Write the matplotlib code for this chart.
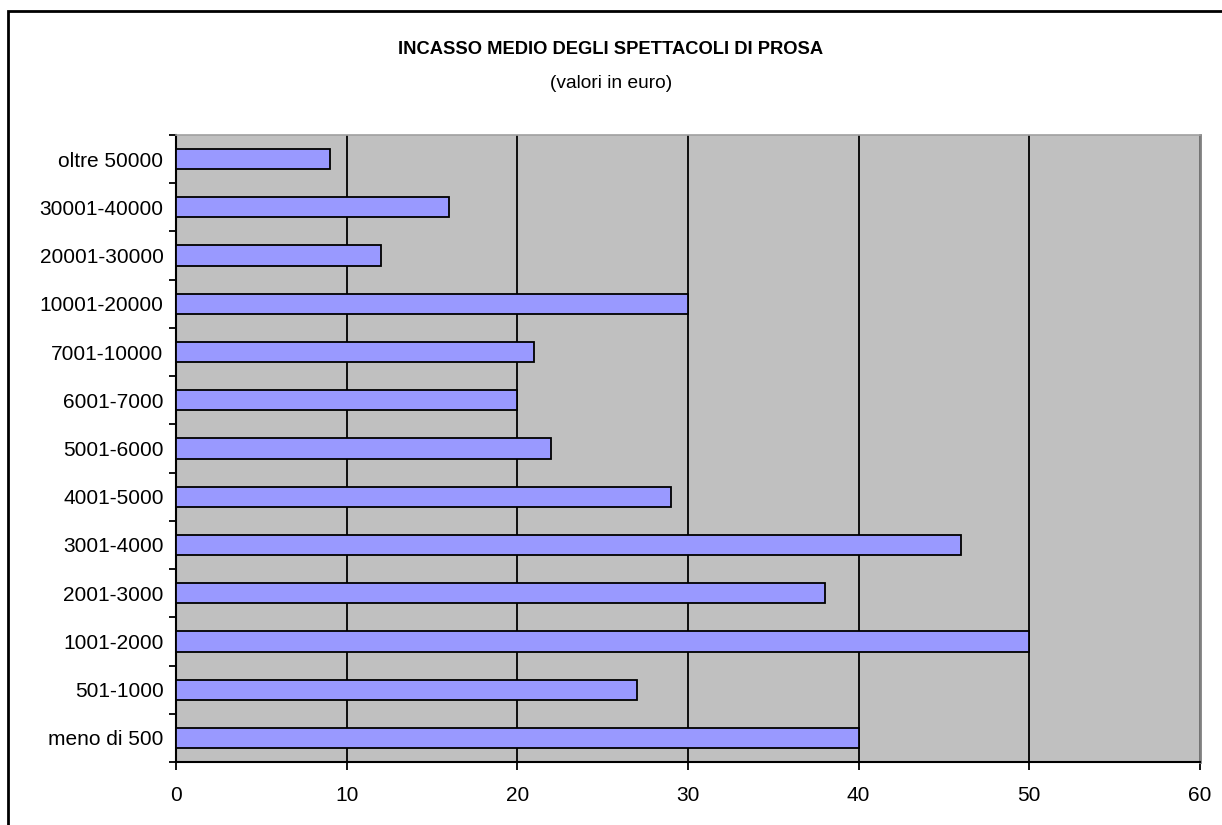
import matplotlib
matplotlib.use("Agg")
import matplotlib.pyplot as plt
from matplotlib.patches import Rectangle
import numpy as np

plt.rcParams['font.family'] = ['Liberation Sans', 'DejaVu Sans']

categories = ["meno di 500", "501-1000", "1001-2000", "2001-3000", "3001-4000",
              "4001-5000", "5001-6000", "6001-7000", "7001-10000", "10001-20000",
              "20001-30000", "30001-40000", "oltre 50000"]
values = [40, 27, 50, 38, 46, 29, 22, 20, 21, 30, 12, 16, 9]
x_ticks = [0, 10, 20, 30, 40, 50, 60]

fig = plt.figure(figsize=(12.22, 8.25), dpi=100)
ax = fig.add_axes([176 / 1222, 63 / 825, 1024 / 1222, 627 / 825])

# outer chart frame (left and top edges visible)
fig.patches.append(Rectangle((8 / 1222, -0.05), 1.2, (825 - 11) / 825 + 0.05,
                             transform=fig.transFigure, fill=False,
                             edgecolor='black', linewidth=2, zorder=0))

ax.set_facecolor('#c0c0c0')
y = np.arange(len(categories))
ax.barh(y, values, height=0.42, color='#9999ff', edgecolor='black',
        linewidth=1.3, zorder=3)

ax.set_xlim(0, 60)
ax.set_ylim(-0.5, len(categories) - 0.5)
ax.set_xticks(x_ticks)
ax.set_xticklabels([str(t) for t in x_ticks], fontsize=15)
ax.xaxis.grid(True, color='black', linewidth=1.3, zorder=1)
ax.set_axisbelow(True)

ax.set_yticks(y)
ax.set_yticklabels(categories, fontsize=15)
ax.tick_params(axis='y', which='major', length=0, pad=9)
ax.set_yticks(np.arange(-0.5, len(categories), 1), minor=True)
ax.tick_params(axis='y', which='minor', length=5, width=1.3, direction='out')
ax.tick_params(axis='x', which='major', length=6, width=1.3, pad=11)

for side in ['left', 'bottom']:
    ax.spines[side].set_linewidth(1.5)
    ax.spines[side].set_color('black')
ax.spines['top'].set_color('#a0a0a0')
ax.spines['top'].set_linewidth(1.2)
ax.spines['right'].set_color('#808080')
ax.spines['right'].set_linewidth(2)

fig.text(0.5, 1 - 50 / 825, "INCASSO MEDIO DEGLI SPETTACOLI DI PROSA",
         ha='center', va='center', fontsize=13.2, fontweight='bold')
fig.text(0.5, 1 - 83 / 825, "(valori in euro)", ha='center', va='center',
         fontsize=13.8)

fig.savefig("out.png", dpi=100)
